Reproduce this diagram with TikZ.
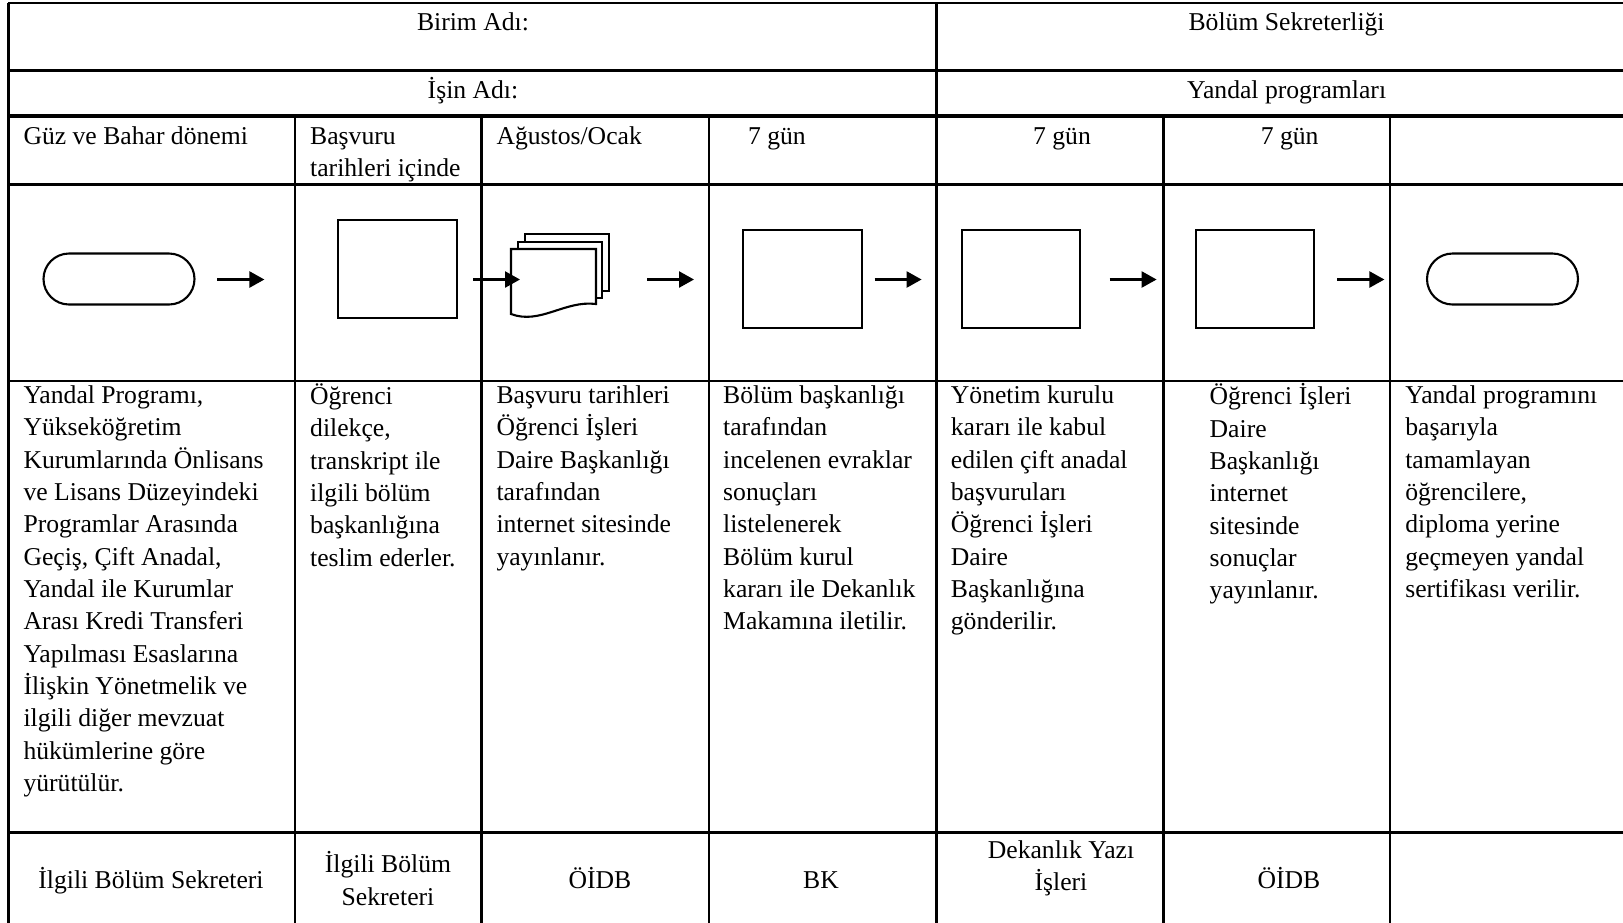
\documentclass[tikz,border=0pt]{standalone}
\usepackage{fontspec}
\setmainfont{Liberation Serif}
\usetikzlibrary{arrows.meta}

\tikzset{
  gridline/.style={line width=0.75pt},
  boldline/.style={line width=1.2pt},
  termbox/.style={draw, line width=0.6pt, rounded corners=2.55mm, minimum width=15.1mm, minimum height=5.1mm, inner sep=0pt},
  procbox/.style={draw, line width=0.6pt, minimum width=11.85mm, minimum height=9.8mm, inner sep=0pt},
  docpage/.style={draw, fill=white, line width=0.6pt},
  flowarrow/.style={line width=0.7pt, -{Triangle[length=1.5mm, width=1.6mm]}},
  celltext/.style={font=\fontsize{7.3}{9.2}\selectfont, inner sep=0pt, align=left, anchor=north west, execute at begin node=\strut},
  midtext/.style={font=\fontsize{7.3}{9.2}\selectfont, inner sep=0pt, align=center, anchor=north, execute at begin node=\strut},
}

\begin{document}
\begin{tikzpicture}[x=0.1mm, y=-0.1mm]
  \useasboundingbox (0,0) rectangle (1623,922);

  % table grid, cut at the right and bottom edge
  \begin{scope}
    \clip (0,0) rectangle (1623,922);
    \draw[gridline] (8.3,3) -- (1640,3);
    \draw[gridline] (8.3,70.4) -- (1640,70.4);
    \draw[boldline] (8.3,115.9) -- (1640,115.9);
    \draw[gridline] (8.3,184.2) -- (1640,184.2);
    \draw[gridline] (8.3,380.9) -- (1640,380.9);
    \draw[gridline] (8.3,832.2) -- (1640,832.2);
    \draw[gridline] (8.3,3) -- (8.3,930);
    \draw[gridline] (936.8,3) -- (936.8,930);
    \foreach \cx in {295,481.3,709,1163.4,1390}
      \draw[gridline] (\cx,115.9) -- (\cx,930);
  \end{scope}

  % header
  \node[midtext] (unit) at (473,7.5) {Birim Adı:};
  \node[midtext] (unitname) at (1286.6,7.5) {Bölüm Sekreterliği};
  \node[midtext] (job) at (473,75) {İşin Adı:};
  \node[midtext] (jobname) at (1286.6,75) {Yandal programları};

  % time row
  \node[celltext] (time1) at (22.8,121.2) {Güz ve Bahar dönemi};
  \node[celltext] (time2) at (309.5,126.5) {Başvuru\\tarihleri içinde};
  \node[celltext] (time3) at (495.8,121.2) {Ağustos/Ocak};
  \node[celltext] (time4) at (747.3,121.2) {7 gün};
  \node[midtext] (time5) at (1062,121.2) {7 gün};
  \node[midtext] (time6) at (1289.7,121.2) {7 gün};

  % flow shapes
  \node[termbox] (start) at (119,279) {};
  \node[procbox] (apply) at (397.5,268.6) {};
  \draw[docpage] (525,234) rectangle (609,291);
  \draw[docpage] (518,242) rectangle (602,298);
  \draw[docpage] (511,249) -- (596,249) -- (596,304)
    .. controls (565,300) and (540,325) .. (511,314) -- cycle;
  \node[procbox] (review) at (802.5,279) {};
  \node[procbox] (board) at (1021.1,279) {};
  \node[procbox] (publish) at (1255,279) {};
  \node[termbox] (finish) at (1502.5,279) {};

  % arrows
  \foreach \ax [count=\i] in {217.4,473,647,874.6,1109.6,1337.4}
    \coordinate (arr\i) at (\ax,279.5);
  \foreach \i in {1,...,6}
    \draw[flowarrow] (arr\i) -- ++(47,0);

  % descriptions
  \node[celltext] (desc1) at (22.8,385.1) {Yandal Programı,\\Yükseköğretim\\Kurumlarında Önlisans\\ve Lisans Düzeyindeki\\Programlar Arasında\\Geçiş, Çift Anadal,\\Yandal ile Kurumlar\\Arası Kredi Transferi\\Yapılması Esaslarına\\İlişkin Yönetmelik ve\\ilgili diğer mevzuat\\hükümlerine göre\\yürütülür.};
  \node[celltext] (desc2) at (309.5,383) {Öğrenci\\dilekçe,\\transkript ile\\ilgili bölüm\\başkanlığına\\teslim ederler.};
  \node[celltext] (desc3) at (495.8,385.1) {Başvuru tarihleri\\Öğrenci İşleri\\Daire Başkanlığı\\tarafından\\internet sitesinde\\yayınlanır.};
  \node[celltext] (desc4) at (722.5,385.1) {Bölüm başkanlığı\\tarafından\\incelenen evraklar\\sonuçları\\listelenerek\\Bölüm kurul\\kararı ile Dekanlık\\Makamına iletilir.};
  \node[celltext] (desc5) at (950.2,385.1) {Yönetim kurulu\\kararı ile kabul\\edilen çift anadal\\başvuruları\\Öğrenci İşleri\\Daire\\Başkanlığına\\gönderilir.};
  \node[celltext] (desc6) at (1209,383) {Öğrenci İşleri\\Daire\\Başkanlığı\\internet\\sitesinde\\sonuçlar\\yayınlanır.};
  \node[celltext] (desc7) at (1404.6,385.1) {Yandal programını\\başarıyla\\tamamlayan\\öğrencilere,\\diploma yerine\\geçmeyen yandal\\sertifikası verilir.};

  % responsible
  \node[midtext] (resp1) at (151,865.4) {İlgili Bölüm Sekreteri};
  \node[midtext] (resp2) at (388,851) {İlgili Bölüm\\Sekreteri};
  \node[midtext] (resp3) at (600,865.4) {ÖİDB};
  \node[midtext] (resp4) at (821,865.4) {BK};
  \node[midtext] (resp5) at (1061,839.5) {Dekanlık Yazı\\İşleri};
  \node[midtext] (resp6) at (1289,865.4) {ÖİDB};
\end{tikzpicture}
\end{document}
